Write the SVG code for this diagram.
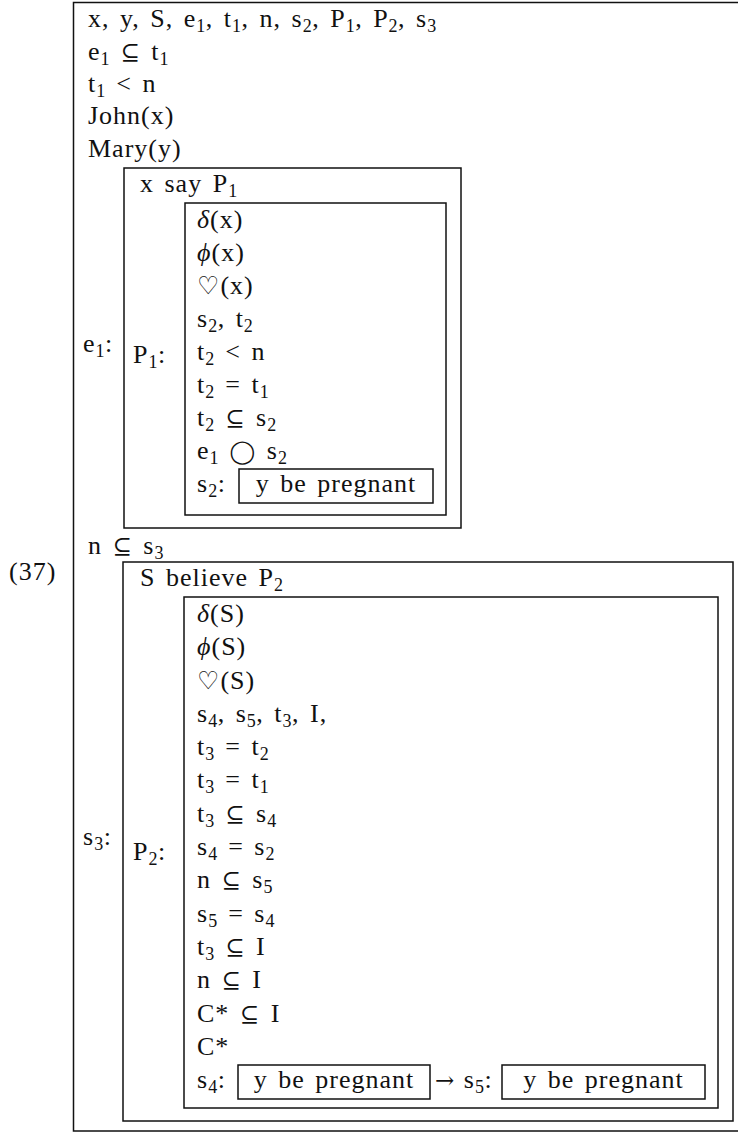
<svg xmlns="http://www.w3.org/2000/svg" width="738" height="1135" viewBox="0 0 738 1135">
<style>
text{font-family:"Liberation Serif","DejaVu Serif",serif;font-size:26px;fill:#111;letter-spacing:1px;word-spacing:3px}
.s{font-size:18px;baseline-shift:-5px;letter-spacing:0.5px}
.i{font-style:italic}
.sym{font-family:"DejaVu Serif","Liberation Serif",serif;font-size:23px}
.h{font-family:"DejaVu Serif","Liberation Serif",serif;font-size:25px}
.box{fill:none;stroke:#111;stroke-width:1.5}
.c{text-anchor:middle}
</style>
<rect width="738" height="1135" fill="#fff"/>
<g id="connectors"></g>
<g id="label37"><text x="9" y="580">(37)</text></g>
<g id="outer">
<path class="box" d="M738,2.5 H73.5 V1131 H738"/>
<text x="88" y="27">x, y, S, e<tspan class="s">1</tspan>, t<tspan class="s">1</tspan>, n, s<tspan class="s">2</tspan>, P<tspan class="s">1</tspan>, P<tspan class="s">2</tspan>, s<tspan class="s">3</tspan></text>
<text x="88" y="60">e<tspan class="s">1</tspan> <tspan class="sym">⊆</tspan> t<tspan class="s">1</tspan></text>
<text x="88" y="92">t<tspan class="s">1</tspan> &lt; n</text>
<text x="88" y="124">John(x)</text>
<text x="88" y="157">Mary(y)</text>
<text x="83" y="352">e<tspan class="s">1</tspan>:</text>
<text x="88" y="554">n <tspan class="sym">⊆</tspan> s<tspan class="s">3</tspan></text>
<text x="83" y="845">s<tspan class="s">3</tspan>:</text>
</g>
<g id="say">
<rect class="box" x="124" y="168" width="337" height="360"/>
<text x="140" y="192">x say P<tspan class="s">1</tspan></text>
<text x="133" y="363">P<tspan class="s">1</tspan>:</text>
</g>
<g id="P1">
<rect class="box" x="185" y="203" width="261" height="312"/>
<text x="197" y="228"><tspan class="i">δ</tspan>(x)</text>
<text x="197" y="261"><tspan class="i">ϕ</tspan>(x)</text>
<text x="197" y="294"><tspan class="h">♡</tspan>(x)</text>
<text x="197" y="327">s<tspan class="s">2</tspan>, t<tspan class="s">2</tspan></text>
<text x="197" y="360">t<tspan class="s">2</tspan> &lt; n</text>
<text x="197" y="393">t<tspan class="s">2</tspan> = t<tspan class="s">1</tspan></text>
<text x="197" y="426">t<tspan class="s">2</tspan> <tspan class="sym">⊆</tspan> s<tspan class="s">2</tspan></text>
<text x="197" y="459">e<tspan class="s">1</tspan> <tspan class="sym">◯</tspan> s<tspan class="s">2</tspan></text>
<text x="197" y="492">s<tspan class="s">2</tspan>:</text>
</g>
<g id="s2box">
<rect class="box" x="239" y="469" width="194" height="34"/>
<text class="c" x="336" y="492">y be pregnant</text>
</g>
<g id="believe">
<rect class="box" x="123" y="562" width="610" height="559"/>
<text x="140" y="586">S believe P<tspan class="s">2</tspan></text>
<text x="133" y="860">P<tspan class="s">2</tspan>:</text>
</g>
<g id="P2">
<rect class="box" x="184" y="597" width="534" height="511"/>
<text x="197" y="622"><tspan class="i">δ</tspan>(S)</text>
<text x="197" y="655"><tspan class="i">ϕ</tspan>(S)</text>
<text x="197" y="689"><tspan class="h">♡</tspan>(S)</text>
<text x="197" y="722">s<tspan class="s">4</tspan>, s<tspan class="s">5</tspan>, t<tspan class="s">3</tspan>, I,</text>
<text x="197" y="755">t<tspan class="s">3</tspan> = t<tspan class="s">2</tspan></text>
<text x="197" y="788">t<tspan class="s">3</tspan> = t<tspan class="s">1</tspan></text>
<text x="197" y="822">t<tspan class="s">3</tspan> <tspan class="sym">⊆</tspan> s<tspan class="s">4</tspan></text>
<text x="197" y="855">s<tspan class="s">4</tspan> = s<tspan class="s">2</tspan></text>
<text x="197" y="888">n <tspan class="sym">⊆</tspan> s<tspan class="s">5</tspan></text>
<text x="197" y="922">s<tspan class="s">5</tspan> = s<tspan class="s">4</tspan></text>
<text x="197" y="955">t<tspan class="s">3</tspan> <tspan class="sym">⊆</tspan> I</text>
<text x="197" y="988">n <tspan class="sym">⊆</tspan> I</text>
<text x="197" y="1022">C* <tspan class="sym">⊆</tspan> I</text>
<text x="197" y="1055">C*</text>
<text x="197" y="1088">s<tspan class="s">4</tspan>:</text>
<text x="435" y="1088" style="word-spacing:1px"><tspan class="sym">→</tspan> s<tspan class="s">5</tspan>:</text>
</g>
<g id="s4box">
<rect class="box" x="238" y="1065" width="192" height="34"/>
<text class="c" x="334" y="1088">y be pregnant</text>
</g>
<g id="s5box">
<rect class="box" x="502" y="1065" width="203" height="34"/>
<text class="c" x="603.5" y="1088">y be pregnant</text>
</g>
</svg>
